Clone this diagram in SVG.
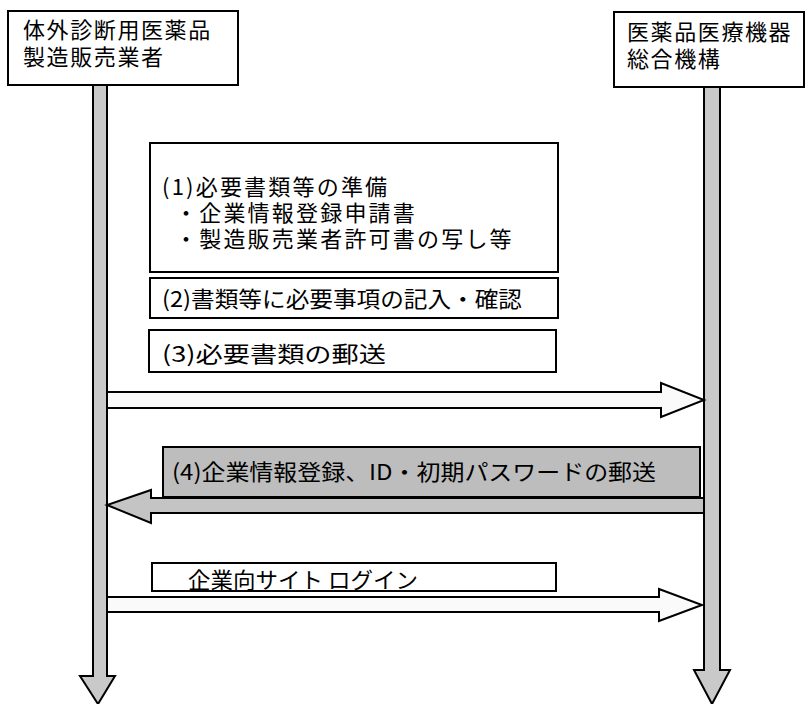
<svg xmlns="http://www.w3.org/2000/svg" width="807" height="704" viewBox="0 0 807 704">
<style>
.t{font-family:"Noto Sans CJK JP","Noto Sans CJK SC",sans-serif;font-size:22px;fill:#000;dominant-baseline:central}
.ls{letter-spacing:1.6px}
.ls2{letter-spacing:2.2px}
.box{fill:#fff;stroke:#000;stroke-width:2}
.gbox{fill:#bdbdbd;stroke:#000;stroke-width:2}
.life{fill:#c9c9c9;stroke:#000;stroke-width:2;stroke-linejoin:miter}
.wa{fill:#fafafa;stroke:#000;stroke-width:2;stroke-linejoin:miter}
.ga{fill:#c4c4c4;stroke:#000;stroke-width:2;stroke-linejoin:miter}
</style>
<rect width="807" height="704" fill="#fff"/>
<g id="connectors">
<path class="life" d="M93,85 L107,85 L107,676 L115,676 L98,704 L80,676 L93,676 Z"/>
<path class="life" d="M704,87 L720,87 L720,670 L730,670 L712,704 L694,670 L704,670 Z"/>
<path class="wa" d="M107,392 L661,392 L661,383 L704,400 L661,417 L661,408 L107,408 Z"/>
<path class="ga" d="M704,498 L151,498 L151,490 L107,505 L151,523 L151,513 L704,513 Z"/>
<path class="wa" d="M107,597 L659,597 L659,589 L702,605 L659,621 L659,612 L107,612 Z"/>
</g>
<g id="actor-left">
<rect class="box" x="8" y="11" width="230" height="74"/>
<text class="t ls"><tspan x="23" y="28">体外診断用医薬品</tspan><tspan x="23" y="55">製造販売業者</tspan></text>
</g>
<g id="actor-right">
<rect class="box" x="614" y="12" width="190" height="75"/>
<text class="t ls"><tspan x="627" y="30">医薬品医療機器</tspan><tspan x="627" y="57">総合機構</tspan></text>
</g>
<g id="step1">
<rect class="box" x="150" y="143" width="408" height="129"/>
<text class="t ls2"><tspan x="162" y="185">(1)必要書類等の準備</tspan><tspan x="175" y="211">・企業情報登録申請書</tspan><tspan x="175" y="237">・製造販売業者許可書の写し等</tspan></text>
</g>
<g id="step2">
<rect class="box" x="150" y="278" width="408" height="40"/>
<text class="t" x="162" y="297" textLength="360" lengthAdjust="spacingAndGlyphs">(2)書類等に必要事項の記入・確認</text>
</g>
<g id="step3">
<rect class="box" x="149" y="330" width="407" height="42"/>
<text class="t" x="162" y="352" textLength="224" lengthAdjust="spacingAndGlyphs">(3)必要書類の郵送</text>
</g>
<g id="step4">
<rect class="gbox" x="163" y="447" width="537" height="50"/>
<text class="t" x="172" y="470" textLength="484" lengthAdjust="spacingAndGlyphs">(4)企業情報登録、ID・初期パスワードの郵送</text>
</g>
<g id="step5">
<rect class="box" x="152" y="563" width="404" height="28"/>
<text class="t" x="188" y="578" textLength="230" lengthAdjust="spacingAndGlyphs">企業向サイト ログイン</text>
</g>
</svg>
